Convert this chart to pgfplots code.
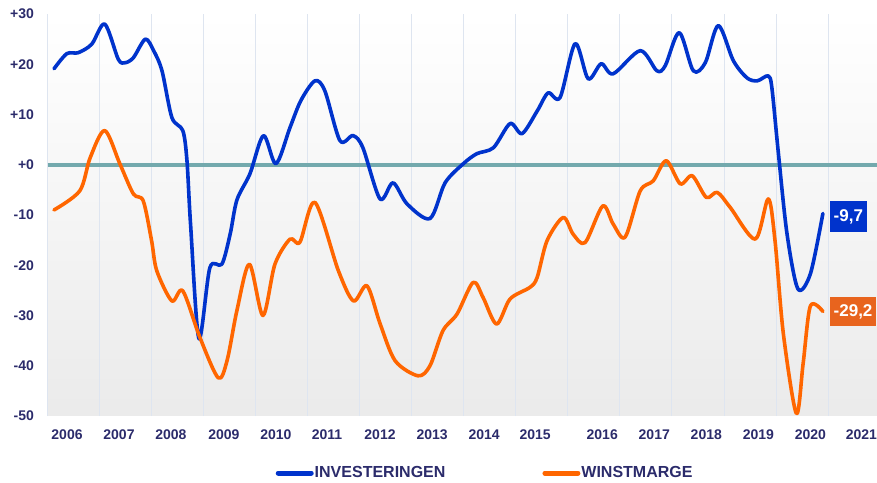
\documentclass[border=0pt]{standalone}
\usepackage{fontspec}
\setmainfont{Liberation Sans}
\usepackage{pgfplots}
\pgfplotsset{compat=1.18}
\definecolor{inv}{RGB}{0,51,204}
\definecolor{win}{RGB}{255,102,0}
\definecolor{winbox}{RGB}{232,100,30}
\definecolor{navy}{RGB}{43,43,107}
\definecolor{zeroc}{RGB}{115,169,173}
\definecolor{gridc}{RGB}{222,229,240}
\begin{document}
\begin{tikzpicture}
\useasboundingbox (0,0) rectangle (877bp,483bp);
\begin{axis}[
  at={(47.5bp,67bp)}, anchor=south west,
  scale only axis, width=829.5bp, height=402bp,
  xmin=0, xmax=15.94, ymin=-50, ymax=30,
  clip=false,
  axis line style={draw=none},
  axis background/.style={shade, top color=white, bottom color=black!8},
  xtick={0.375,1.374,2.37,3.39,4.39,5.37,6.39,7.39,8.39,9.37,10.66,11.66,12.66,13.66,14.66,15.64},
  xticklabels={2006,2007,2008,2009,2010,2011,2012,2013,2014,2015,2016,2017,2018,2019,2020,2021},
  minor xtick={0,1,...,15}, xminorgrids, minor grid style={gridc, line width=1bp},
  ytick={-50,-40,-30,-20,-10,0,10,20,30},
  yticklabels={-50,-40,-30,-20,-10,+0,+10,+20,+30},
  major tick length=0pt, minor tick length=0pt,
  tick style={draw=none},
  /pgf/number format/assume math mode=true,
  ticklabel style={font=\bfseries\fontsize{14bp}{16bp}\selectfont, text=navy},
  xticklabel style={anchor=north, yshift=-10bp},
  yticklabel style={anchor=east, xshift=-10bp},
  legend columns=2,
  legend style={draw=none, fill=none, at={(0.527,-0.142)}, anchor=center,
    font=\bfseries\fontsize{16bp}{18bp}\selectfont, text=navy,
    /tikz/every even column/.append style={column sep=96bp},
    nodes={inner xsep=1bp}},
  legend image code/.code={\draw[#1, line width=5bp] (0bp,0bp) -- (33bp,0bp);},
]
\addplot[zeroc, line width=4bp, forget plot] coordinates {(0,0) (15.94,0)};

\addplot[inv, line width=3.6bp, smooth, tension=0.5, line join=round, line cap=round] coordinates {
(0.125,19.1) (0.37,22.1) (0.59,22.3) (0.85,24) (1.1,28) (1.36,21) (1.49,20.3) (1.65,21.3)
(1.88,25) (2.04,22.7) (2.2,18.7) (2.39,9.4) (2.6,6.8) (2.68,0.8) (2.75,-12) (2.91,-34.6)
(3.12,-20.5) (3.35,-19.8) (3.51,-13.8) (3.64,-7) (3.89,-1.8) (4.15,5.8) (4.39,0.2) (4.66,7.4)
(4.87,12.8) (5.14,16.7) (5.33,14.7) (5.62,4.8) (5.87,5.8) (6.06,3.4) (6.39,-6.8) (6.64,-3.6)
(6.91,-7.8) (7.35,-10.7) (7.64,-3.6) (7.99,0.2) (8.25,2.2) (8.57,3.4) (8.89,8.2) (9.12,6.2)
(9.41,10.7) (9.62,14.3) (9.85,13.4) (10.14,24.1) (10.39,17.1) (10.64,20.1) (10.87,18.1) (11.39,22.7)
(11.71,18.7) (11.87,19.7) (12.14,26.3) (12.41,18.7) (12.64,20.3) (12.89,27.7) (13.18,20.7) (13.44,17.3)
(13.64,16.7) (13.85,17.7) (13.92,15.3) (14.04,2.8) (14.21,-13.7) (14.42,-24.7) (14.66,-21.7) (14.9,-9.7)
} node[pos=1, anchor=west, xshift=5bp, yshift=-3bp, fill=inv, text=white, inner xsep=4bp, minimum height=31bp,
  font=\bfseries\fontsize{17bp}{19bp}\selectfont] {-9,7};
\addlegendentry{INVESTERINGEN}

\addplot[win, line width=3.6bp, smooth, tension=0.5, line join=round, line cap=round] coordinates {
(0.125,-9) (0.62,-5.2) (0.82,1.4) (1.1,6.8) (1.39,0.2) (1.65,-5.8) (1.84,-7.2) (2.0,-15.1)
(2.1,-21.1) (2.39,-27.1) (2.6,-25.1) (2.93,-34.4) (3.28,-42.4) (3.45,-39) (3.64,-29) (3.88,-19.8)
(4.14,-30) (4.37,-19.8) (4.66,-14.8) (4.85,-15.4) (5.14,-7.5) (5.59,-21.1) (5.88,-27.1) (6.14,-24.1)
(6.39,-31.6) (6.68,-39) (7.12,-42) (7.35,-40) (7.6,-33) (7.87,-29.7) (8.18,-23.4) (8.37,-26.4)
(8.63,-31.7) (8.89,-26.7) (9.27,-24.4) (9.41,-22.4) (9.6,-15.1) (9.91,-10.5) (10.1,-13.8) (10.33,-15.5)
(10.67,-8.2) (10.87,-11.8) (11.1,-14.4) (11.39,-5.2) (11.64,-3.2) (11.89,0.8) (12.16,-3.8) (12.39,-2.2)
(12.66,-6.5) (12.87,-5.5) (13.12,-8.5) (13.6,-14.8) (13.85,-6.8) (13.98,-15.1) (14.14,-33.6) (14.39,-49.5)
(14.52,-39.6) (14.66,-28.1) (14.9,-29.2)
} node[pos=1, anchor=west, xshift=5bp, fill=winbox, text=white, inner xsep=4bp, minimum height=29bp,
  font=\bfseries\fontsize{17bp}{19bp}\selectfont] {-29,2};
\addlegendentry{WINSTMARGE}
\end{axis}
\end{tikzpicture}
\end{document}
